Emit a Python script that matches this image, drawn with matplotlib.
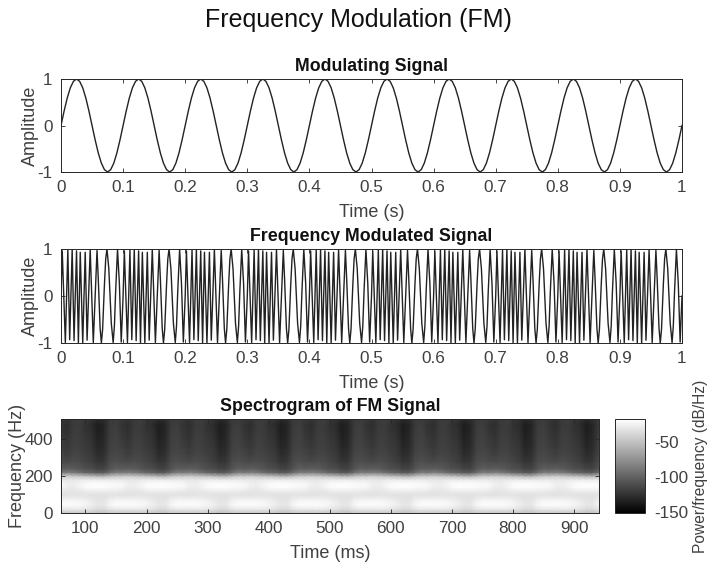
import numpy as np
import matplotlib
matplotlib.use("Agg")
import matplotlib.pyplot as plt

plt.rcParams['font.family'] = ['Liberation Sans', 'DejaVu Sans']
plt.rcParams['axes.unicode_minus'] = False

# ---- data ----
mod_values = [
 0,.31,.59,.81,.95,1,.95,.81,.59,.31,0,-.31,-.59,-.81,-.95,-1,-.95,-.81,-.59,-.31,
 0,.31,.59,.81,.95,1,.95,.81,.59,.31,0,-.31,-.59,-.81,-.95,-1,-.95,-.81,-.59,-.31,
 0,.31,.59,.81,.95,1,.95,.81,.59,.31,0,-.31,-.59,-.81,-.95,-1,-.95,-.81,-.59,-.31,
 0,.31,.59,.81,.95,1,.95,.81,.59,.31,0,-.31,-.59,-.81,-.95,-1,-.95,-.81,-.59,-.31,
 0,.31,.59,.81,.95,1,.95,.81,.59,.31,0,-.31,-.59,-.81,-.95,-1,-.95,-.81,-.59,-.31,
 0,.31,.59,.81,.95,1,.95,.81,.59,.31,0,-.31,-.59,-.81,-.95,-1,-.95,-.81,-.59,-.31,
 0,.31,.59,.81,.95,1,.95,.81,.59,.31,0,-.31,-.59,-.81,-.95,-1,-.95,-.81,-.59,-.31,
 0,.31,.59,.81,.95,1,.95,.81,.59,.31,0,-.31,-.59,-.81,-.95,-1,-.95,-.81,-.59,-.31,
 0,.31,.59,.81,.95,1,.95,.81,.59,.31,0,-.31,-.59,-.81,-.95,-1,-.95,-.81,-.59,-.31,
 0,.31,.59,.81,.95,1,.95,.81,.59,.31,0,-.31,-.59,-.81,-.95,-1,-.95,-.81,-.59,-.31,
 0]
mod_time_ms = list(range(0, 1001, 5))

fm_time_ms = [
 0,2,7,11,14,18,21,25,28,31,35,39,42,47,52,58,60,63,65,67,70,72,74,77,81,84,86,88,91,94,97,
 100,102,107,111,114,118,121,125,128,131,135,139,142,147,152,158,160,163,165,167,170,172,174,177,181,184,186,188,191,194,197,
 200,202,207,211,214,218,221,225,228,231,235,239,242,247,252,258,260,263,265,267,270,272,274,277,281,284,286,288,291,294,297,
 300,302,307,311,314,318,321,325,328,331,335,339,342,347,352,358,360,363,365,367,370,372,374,377,381,384,386,388,391,394,397,
 400,402,407,411,414,418,421,425,428,431,435,439,442,447,452,458,460,463,465,467,470,472,474,477,481,484,486,488,491,494,497,
 500,502,507,511,514,518,521,525,528,531,535,539,542,547,552,558,560,563,565,567,570,572,574,577,581,584,586,588,591,594,597,
 600,602,607,611,614,618,621,625,628,631,635,639,642,647,652,658,660,663,665,667,670,672,674,677,681,684,686,688,691,694,697,
 700,702,707,711,714,718,721,725,728,731,735,739,742,747,752,758,760,763,765,767,770,772,774,777,781,784,786,788,791,794,797,
 800,802,807,811,814,818,821,825,828,831,835,839,842,847,852,858,860,863,865,867,870,872,874,877,881,884,886,888,891,894,897,
 900,902,907,911,914,918,921,925,928,931,935,939,942,947,952,958,960,963,965,967,970,972,974,977,981,984,986,988,991,994,997,
 1000]
fm_values = [
 0,.96,-.99,.98,-.93,1,-.95,.96,-1,.93,-1,.93,-.94,.99,-.99,.97,.37,-.69,-1,-.71,.26,.79,1,.58,-.58,-.99,-.64,.1,.99,.27,-.98,
 0,.96,-.99,.98,-.93,1,-.95,.96,-1,.93,-1,.93,-.94,.99,-.99,.97,.37,-.69,-1,-.71,.26,.79,1,.58,-.58,-.99,-.64,.1,.99,.27,-.98,
 0,.96,-.99,.98,-.93,1,-.95,.96,-1,.93,-1,.93,-.94,.99,-.99,.97,.37,-.69,-1,-.71,.26,.79,1,.58,-.58,-.99,-.64,.1,.99,.27,-.98,
 0,.96,-.99,.98,-.93,1,-.95,.96,-1,.93,-1,.93,-.94,.99,-.99,.97,.37,-.69,-1,-.71,.26,.79,1,.58,-.58,-.99,-.64,.1,.99,.27,-.98,
 0,.96,-.99,.98,-.93,1,-.95,.96,-1,.93,-1,.93,-.94,.99,-.99,.97,.37,-.69,-1,-.71,.26,.79,1,.58,-.58,-.99,-.64,.1,.99,.27,-.98,
 0,.96,-.99,.98,-.93,1,-.95,.96,-1,.93,-1,.93,-.94,.99,-.99,.97,.37,-.69,-1,-.71,.26,.79,1,.58,-.58,-.99,-.64,.1,.99,.27,-.98,
 0,.96,-.99,.98,-.93,1,-.95,.96,-1,.93,-1,.93,-.94,.99,-.99,.97,.37,-.69,-1,-.71,.26,.79,1,.58,-.58,-.99,-.64,.1,.99,.27,-.98,
 0,.96,-.99,.98,-.93,1,-.95,.96,-1,.93,-1,.93,-.94,.99,-.99,.97,.37,-.69,-1,-.71,.26,.79,1,.58,-.58,-.99,-.64,.1,.99,.27,-.98,
 0,.96,-.99,.98,-.93,1,-.95,.96,-1,.93,-1,.93,-.94,.99,-.99,.97,.37,-.69,-1,-.71,.26,.79,1,.58,-.58,-.99,-.64,.1,.99,.27,-.98,
 0,.96,-.99,.98,-.93,1,-.95,.96,-1,.93,-1,.93,-.94,.99,-.99,.97,.37,-.69,-1,-.71,.26,.79,1,.58,-.58,-.99,-.64,.1,.99,.27,-.98,
 0]

spec_freq_hz = [0,20,40,60,80,100,120,140,160,180,200,220,240,280,320,360,400,440,480,512]
# gray levels read per frequency row, over one 100 ms repeat of the picture (60..150 ms)
spec_gray_cycle = [
 [200,200,200,200,200,198,192,192,198,200],
 [232,232,232,232,228,225,218,218,228,232],
 [250,250,250,248,244,238,230,230,244,250],
 [250,250,250,248,244,238,230,230,244,250],
 [238,238,238,236,234,230,226,226,234,238],
 [226,226,228,228,228,227,226,226,228,228],
 [234,230,230,232,236,238,238,238,237,236],
 [246,238,236,242,250,252,252,252,250,248],
 [248,240,238,244,250,252,252,252,250,248],
 [234,232,232,234,237,237,237,237,236,236],
 [200,204,200,196,192,188,180,180,192,200],
 [122,126,122,114,102,98,90,90,110,126],
 [92,94,92,86,80,78,68,68,84,95],
 [74,72,76,74,68,62,52,54,74,78],
 [68,62,68,68,62,58,44,48,68,72],
 [62,56,64,64,58,54,38,42,64,68],
 [58,52,62,62,56,50,34,40,62,66],
 [54,48,60,60,52,48,30,38,60,64],
 [52,46,58,60,50,44,30,36,58,62],
 [58,52,60,62,58,52,42,46,58,60],
]
spec_time_ms = list(range(60, 941, 10))
db_low, db_high = -152, -16

x_ticks_s = [0, .1, .2, .3, .4, .5, .6, .7, .8, .9, 1]
x_tick_labels_s = ['0', '0.1', '0.2', '0.3', '0.4', '0.5', '0.6', '0.7', '0.8', '0.9', '1']
amp_ticks = [-1, 0, 1]
spec_x_ticks = [100, 200, 300, 400, 500, 600, 700, 800, 900]
spec_y_ticks = [0, 200, 400]
cbar_ticks = [-150, -100, -50]

# ---- figure ----
W, H = 707, 562
TXT = '#404040'
EDGE = '#262626'
fig = plt.figure(figsize=(W / 100, H / 100), dpi=100)


def axes_px(l, t, r, b):
    return fig.add_axes([l / W, 1 - b / H, (r - l) / W, (b - t) / H])


def style(ax):
    for s in ax.spines.values():
        s.set_color(EDGE)
        s.set_linewidth(0.7)
    ax.tick_params(direction='in', length=3, width=0.6, color=EDGE,
                   labelcolor=TXT, labelsize=12.3, top=True, right=True, pad=6)


ax1 = axes_px(61, 79, 682, 172)
ax1.plot(np.array(mod_time_ms) / 1000, mod_values, color='#222222', lw=1.0)
ax2 = axes_px(61, 249, 682, 343)
ax2.plot(np.array(fm_time_ms) / 1000, fm_values, color='#222222', lw=1.0)

for ax, title in ((ax1, 'Modulating Signal'), (ax2, 'Frequency Modulated Signal')):
    style(ax)
    ax.set_xlim(0, 1)
    ax.set_ylim(-1, 1)
    ax.set_xticks(x_ticks_s, x_tick_labels_s)
    ax.set_yticks(amp_ticks, ['-1', '0', '1'])
    ax.set_xlabel('Time (s)', fontsize=13, color=TXT, labelpad=6)
    ax.set_ylabel('Amplitude', fontsize=13, color=TXT, labelpad=-1)
    ax.set_title(title, fontsize=12.8, fontweight='bold', color='#111111', pad=6)

ax3 = axes_px(61, 419, 598.5, 513)
style(ax3)
cycle = np.array(spec_gray_cycle, dtype=float)
gray = np.tile(cycle, (1, 9))[:, :len(spec_time_ms)]
spec_db = db_low + gray / 255 * (db_high - db_low)
mesh = ax3.pcolormesh(spec_time_ms, spec_freq_hz, spec_db, cmap='gray', shading='gouraud',
                      vmin=db_low, vmax=db_high)
ax3.set_xlim(60, 940)
ax3.set_ylim(0, 510)
ax3.set_xticks(spec_x_ticks)
ax3.set_yticks(spec_y_ticks)
ax3.set_xlabel('Time (ms)', fontsize=13, color=TXT, labelpad=6)
ax3.set_ylabel('Frequency (Hz)', fontsize=13, color=TXT, labelpad=-1)
ax3.set_title('Spectrogram of FM Signal', fontsize=12.8, fontweight='bold', color='#111111', pad=6)

cax = axes_px(615, 419, 645, 513)
cb = fig.colorbar(mesh, cax=cax)
cb.set_ticks(cbar_ticks)
cb.ax.tick_params(direction='in', length=0, labelcolor=TXT, labelsize=12.3, pad=7)
cb.outline.set_edgecolor(EDGE)
cb.outline.set_linewidth(0.7)
fig.text(700 / W, 1 - 466 / H, 'Power/frequency (dB/Hz)', rotation=90, ha='center', va='center',
         fontsize=11.2, color=TXT)

fig.text(358 / W, 1 - 20 / H, 'Frequency Modulation (FM)', ha='center', va='center',
         fontsize=18, color='#111111')

fig.savefig('out.png', dpi=100)
